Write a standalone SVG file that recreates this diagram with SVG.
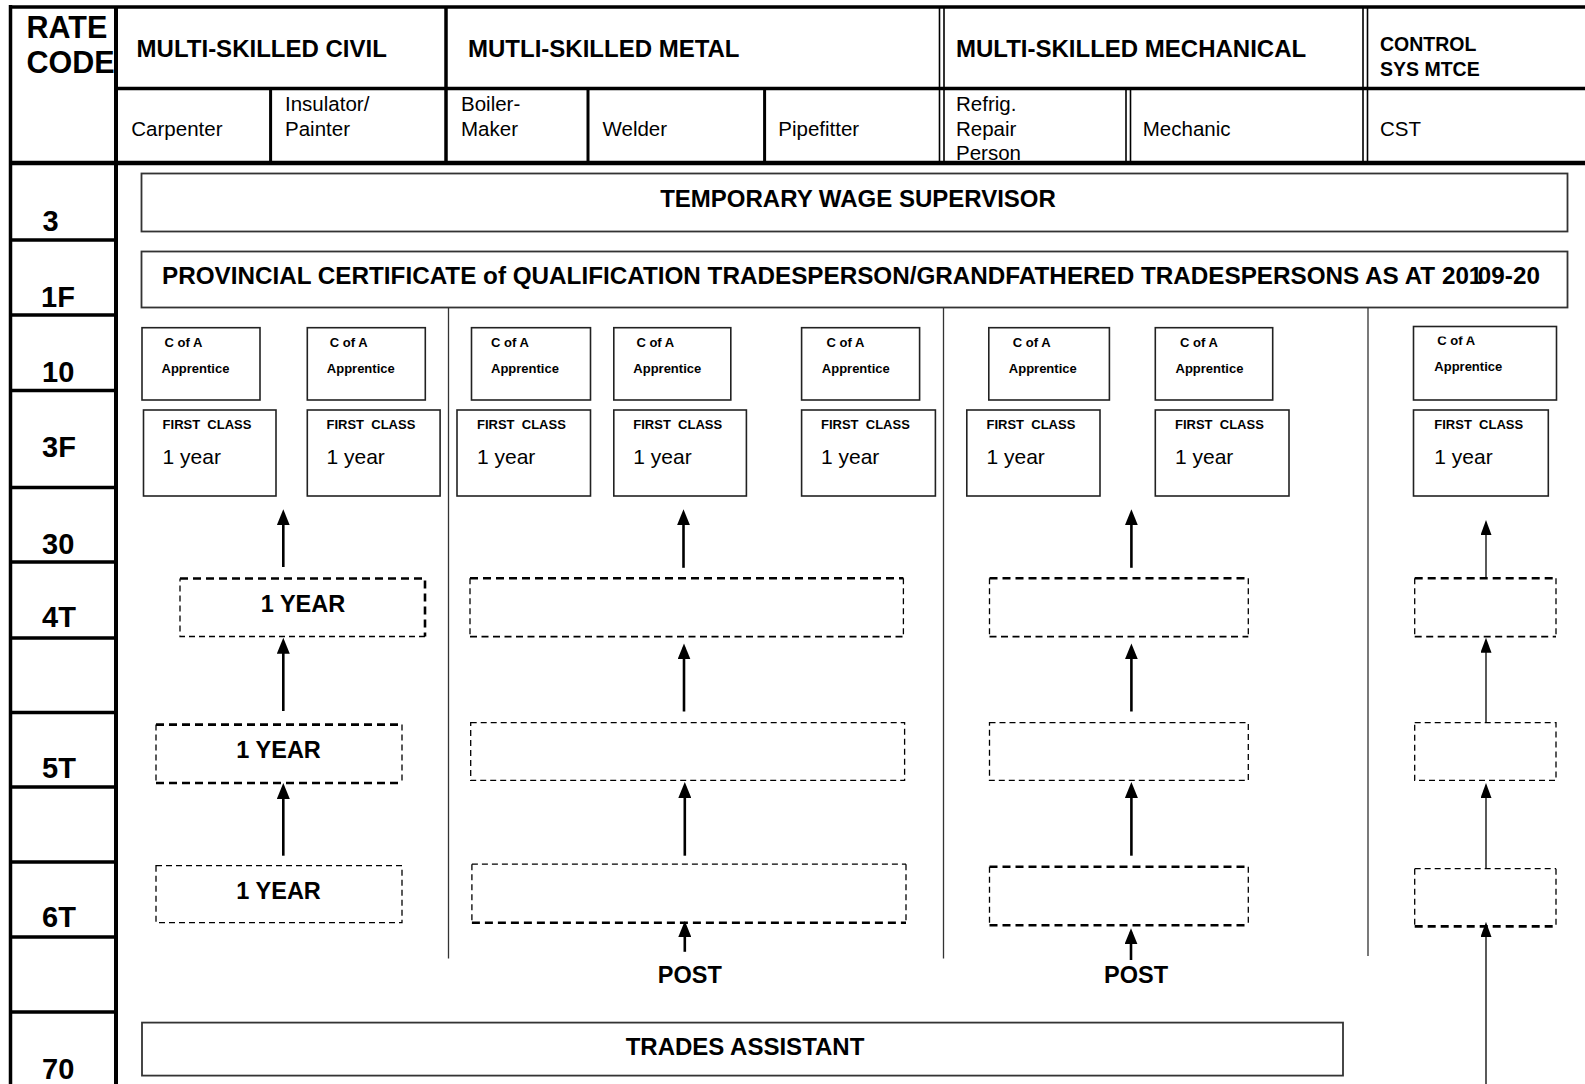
<svg xmlns="http://www.w3.org/2000/svg" width="1585" height="1084" viewBox="0 0 1585 1084">
  <defs>
    <style>
      text { font-family: "Liberation Sans", Arial, sans-serif; fill: #000; }
      .ln { stroke: #000; fill: none; }
      .w35 { stroke-width: 3.5; }
      .w3 { stroke-width: 3; }
      .w16 { stroke-width: 1.6; }
      .rate { font-size: 29px; font-weight: bold; }
      .rc { font-size: 30.5px; font-weight: bold; }
      .hd { font-size: 24px; font-weight: bold; }
      .hd2 { font-size: 19.5px; font-weight: bold; }
      .sub { font-size: 20.5px; }
      .big { fill: #fff; stroke: #333; stroke-width: 1.8; }
      .box { fill: #fff; stroke: #222; stroke-width: 1.6; }
      .t24 { font-size: 24px; font-weight: bold; }
      .t23 { font-size: 23.5px; font-weight: bold; }
      .sm { font-size: 13px; font-weight: bold; }
      .yr { font-size: 21px; }
      .dthin { fill: none; stroke: #000; stroke-width: 1.3; stroke-dasharray: 6 4; }
      .dmid { fill: none; stroke: #000; stroke-width: 1.7; stroke-dasharray: 7 4.5; }
      .dthick { fill: none; stroke: #000; stroke-width: 2.6; stroke-dasharray: 8 5; }
      .sep { stroke: #333; stroke-width: 1.3; }
      .arr { stroke: #000; stroke-width: 2.6; fill: none; marker-end: url(#ah); }
      .arr-t { stroke: #000; stroke-width: 1.3; fill: none; marker-end: url(#ah2); }
    </style>
    <marker id="ah" markerUnits="userSpaceOnUse" viewBox="0 0 16 13" refX="12" refY="6.5" markerWidth="16" markerHeight="13" orient="auto">
      <path d="M0,0 L16,6.5 L0,13 Z" fill="#000"/>
    </marker>
    <marker id="ah2" markerUnits="userSpaceOnUse" viewBox="0 0 15 11" refX="12" refY="5.5" markerWidth="15" markerHeight="11" orient="auto">
      <path d="M0,0 L15,5.5 L0,11 Z" fill="#000"/>
    </marker>
    <clipPath id="clip-cofa8">
      <rect x="1413" y="336.5" width="145" height="60"/>
    </clipPath>
  </defs>

  <rect x="0" y="0" width="1585" height="1084" fill="#fff"/>

  <!-- Table grid: header rows and rate code column -->
  <g id="rate-table">
    <path class="ln w35" d="M10,7 H1585"/>
    <path class="ln w35" d="M10.5,5 V1084"/>
    <path class="ln" stroke-width="4" d="M116,7 V1084"/>
    <path class="ln w35" d="M116,88.5 H1585"/>
    <path class="ln" stroke-width="4.5" d="M10,163 H1585"/>
    <path class="ln w35" d="M446,7 V163"/>
    <path class="ln w16" d="M939.5,7 V163 M944,7 V163"/>
    <path class="ln w16" d="M1363,7 V163 M1367.5,7 V163"/>
    <path class="ln w3" d="M270.6,88.5 V163 M588,88.5 V163 M764.6,88.5 V163"/>
    <path class="ln w16" d="M1126,88.5 V163 M1130.5,88.5 V163"/>
    <path class="ln w35" d="M10,240 H116 M10,315 H116 M10,390.5 H116 M10,487.5 H116 M10,562 H116 M10,638 H116 M10,712.5 H116 M10,787 H116 M10,862 H116 M10,937 H116 M10,1012 H116"/>

    <text class="rc" x="26.5" y="38">RATE</text>
    <text class="rc" x="26.5" y="73">CODE</text>

    <text class="hd" x="136.6" y="57">MULTI-SKILLED CIVIL</text>
    <text class="hd" x="468" y="57">MUTLI-SKILLED METAL</text>
    <text class="hd" x="956" y="57">MULTI-SKILLED MECHANICAL</text>
    <text class="hd2" x="1380" y="50.5">CONTROL</text>
    <text class="hd2" x="1380" y="76">SYS MTCE</text>

    <text class="sub" x="131.3" y="135.5">Carpenter</text>
    <text class="sub" x="285" y="111">Insulator/</text>
    <text class="sub" x="285" y="135.5">Painter</text>
    <text class="sub" x="461" y="111">Boiler-</text>
    <text class="sub" x="461" y="135.5">Maker</text>
    <text class="sub" x="602.5" y="135.5">Welder</text>
    <text class="sub" x="778.3" y="135.5">Pipefitter</text>
    <text class="sub" x="956" y="111">Refrig.</text>
    <text class="sub" x="956" y="135.5">Repair</text>
    <text class="sub" x="956" y="160">Person</text>
    <text class="sub" x="1142.8" y="135.5">Mechanic</text>
    <text class="sub" x="1380" y="135.5">CST</text>

    <text class="rate" x="42.5" y="231">3</text>
    <text class="rate" x="41" y="306.7">1F</text>
    <text class="rate" x="42" y="381.7">10</text>
    <text class="rate" x="42" y="456.7">3F</text>
    <text class="rate" x="42" y="554">30</text>
    <text class="rate" x="42" y="626.6">4T</text>
    <text class="rate" x="42" y="777.5">5T</text>
    <text class="rate" x="42" y="927.2">6T</text>
    <text class="rate" x="42" y="1079">70</text>
  </g>

  <!-- Stream separators -->
  <g id="stream-separators">
    <path class="sep" d="M448.5,307.5 V958.5 M943.5,307.5 V958.5 M1368,304 V956"/>
  </g>

  <g id="temp-wage-supervisor">
    <rect class="big" x="141.5" y="173.5" width="1426" height="58"/>
    <text class="t24" x="858" y="206.5" text-anchor="middle">TEMPORARY WAGE SUPERVISOR</text>
  </g>

  <g id="provincial-certificate">
    <rect class="big" x="141.5" y="251.5" width="1426" height="56"/>
    <text x="162" y="284" font-size="24.25" font-weight="bold">PROVINCIAL CERTIFICATE of QUALIFICATION TRADESPERSON/GRANDFATHERED TRADESPERSONS AS AT 201<tspan dx="-4.5">09-20</tspan></text>
  </g>

  <!-- Certificate of Apprenticeship boxes -->
  <g id="cofa-carpenter">
    <rect class="box" x="142" y="327.7" width="118" height="72.3"/>
    <text class="sm" x="164.5" y="347">C of A</text>
    <text class="sm" x="161.5" y="373">Apprentice</text>
  </g>
  <g id="cofa-insulator">
    <rect class="box" x="307.3" y="327.7" width="118" height="72.3"/>
    <text class="sm" x="329.8" y="347">C of A</text>
    <text class="sm" x="326.8" y="373">Apprentice</text>
  </g>
  <g id="cofa-boilermaker">
    <rect class="box" x="471.5" y="327.7" width="119" height="72.3"/>
    <text class="sm" x="491" y="347">C of A</text>
    <text class="sm" x="491" y="373">Apprentice</text>
  </g>
  <g id="cofa-welder">
    <rect class="box" x="613.8" y="327.7" width="117" height="72.3"/>
    <text class="sm" x="636.4" y="347">C of A</text>
    <text class="sm" x="633.3" y="373">Apprentice</text>
  </g>
  <g id="cofa-pipefitter">
    <rect class="box" x="801.6" y="327.7" width="118" height="72.3"/>
    <text class="sm" x="826.5" y="347">C of A</text>
    <text class="sm" x="821.8" y="373">Apprentice</text>
  </g>
  <g id="cofa-refrig">
    <rect class="box" x="988.8" y="327.7" width="120.6" height="72.3"/>
    <text class="sm" x="1012.8" y="347">C of A</text>
    <text class="sm" x="1008.8" y="373">Apprentice</text>
  </g>
  <g id="cofa-mechanic">
    <rect class="box" x="1155.3" y="327.7" width="117.4" height="72.3"/>
    <text class="sm" x="1180" y="347">C of A</text>
    <text class="sm" x="1175.5" y="373">Apprentice</text>
  </g>
  <g id="cofa-cst">
    <rect class="box" x="1413.5" y="326.5" width="143" height="73.5"/>
    <text class="sm" x="1437.3" y="345" clip-path="url(#clip-cofa8)">C of A</text>
    <text class="sm" x="1434.3" y="371">Apprentice</text>
  </g>

  <!-- First class boxes -->
  <g id="fc-carpenter">
    <rect class="box" x="143.5" y="410" width="132.5" height="86"/>
    <text class="sm" x="162.6" y="428.7" xml:space="preserve">FIRST  CLASS</text>
    <text class="yr" x="162.6" y="464">1 year</text>
  </g>
  <g id="fc-insulator">
    <rect class="box" x="307.3" y="410" width="132.8" height="86"/>
    <text class="sm" x="326.5" y="428.7" xml:space="preserve">FIRST  CLASS</text>
    <text class="yr" x="326.5" y="464">1 year</text>
  </g>
  <g id="fc-boilermaker">
    <rect class="box" x="457" y="410" width="133.5" height="86"/>
    <text class="sm" x="477" y="428.7" xml:space="preserve">FIRST  CLASS</text>
    <text class="yr" x="477" y="464">1 year</text>
  </g>
  <g id="fc-welder">
    <rect class="box" x="613.8" y="410" width="132.6" height="86"/>
    <text class="sm" x="633.3" y="428.7" xml:space="preserve">FIRST  CLASS</text>
    <text class="yr" x="633.3" y="464">1 year</text>
  </g>
  <g id="fc-pipefitter">
    <rect class="box" x="801.6" y="410" width="133.8" height="86"/>
    <text class="sm" x="821" y="428.7" xml:space="preserve">FIRST  CLASS</text>
    <text class="yr" x="821" y="464">1 year</text>
  </g>
  <g id="fc-refrig">
    <rect class="box" x="966.8" y="410" width="133.2" height="86"/>
    <text class="sm" x="986.5" y="428.7" xml:space="preserve">FIRST  CLASS</text>
    <text class="yr" x="986.5" y="464">1 year</text>
  </g>
  <g id="fc-mechanic">
    <rect class="box" x="1155.3" y="410" width="133.7" height="86"/>
    <text class="sm" x="1175" y="428.7" xml:space="preserve">FIRST  CLASS</text>
    <text class="yr" x="1175" y="464">1 year</text>
  </g>
  <g id="fc-cst">
    <rect class="box" x="1413.5" y="410" width="134.8" height="86"/>
    <text class="sm" x="1434.3" y="429.3" xml:space="preserve">FIRST  CLASS</text>
    <text class="yr" x="1434.3" y="464">1 year</text>
  </g>

  <!-- Dashed progression steps: civil -->
  <g id="civil-4t">
    <path class="dthick" d="M180,578.5 H425 V636.5"/>
    <path class="dthin" d="M425,636.5 H180 V578.5"/>
    <text class="t23" x="303" y="612" text-anchor="middle">1 YEAR</text>
  </g>
  <g id="civil-5t">
    <path class="dthick" d="M156,724.6 H402 M156,783 H402"/>
    <path class="dthin" d="M156,724.6 V783 M402,724.6 V783"/>
    <text class="t23" x="278.6" y="758" text-anchor="middle">1 YEAR</text>
  </g>
  <g id="civil-6t">
    <rect class="dthin" x="156" y="865.7" width="246" height="57"/>
    <text class="t23" x="278.6" y="898.5" text-anchor="middle">1 YEAR</text>
  </g>

  <!-- Dashed progression steps: metal -->
  <g id="metal-4t">
    <path class="dthick" d="M470,578.2 H903.4"/>
    <path class="dmid" d="M470,636.7 H903.4"/>
    <path class="dthin" d="M470,578.2 V636.7 M903.4,578.2 V636.7"/>
  </g>
  <g id="metal-5t">
    <rect class="dthin" x="470.7" y="722.7" width="433.9" height="57.7"/>
  </g>
  <g id="metal-6t">
    <path class="dthin" d="M471.9,864.2 H906 M471.9,864.2 V922.7 M906,864.2 V922.7"/>
    <path class="dthick" d="M471.9,922.7 H906"/>
  </g>

  <!-- Dashed progression steps: mechanical -->
  <g id="mech-4t">
    <path class="dthick" d="M989.5,578.2 H1248.3"/>
    <path class="dmid" d="M989.5,636.7 H1248.3"/>
    <path class="dthin" d="M989.5,578.2 V636.7 M1248.3,578.2 V636.7"/>
  </g>
  <g id="mech-5t">
    <rect class="dthin" x="989.5" y="722.7" width="258.8" height="57.7"/>
  </g>
  <g id="mech-6t">
    <path class="dthick" d="M989.5,866.8 H1248.3 M989.5,925.3 H1248.3"/>
    <path class="dthin" d="M989.5,866.8 V925.3 M1248.3,866.8 V925.3"/>
  </g>

  <!-- Dashed progression steps: control systems -->
  <g id="cst-4t">
    <path class="dthick" d="M1414.7,578.2 H1556"/>
    <path class="dmid" d="M1414.7,636.7 H1556"/>
    <path class="dthin" d="M1414.7,578.2 V636.7 M1556,578.2 V636.7"/>
  </g>
  <g id="cst-5t">
    <rect class="dthin" x="1414.7" y="722.7" width="141.3" height="57.7"/>
  </g>
  <g id="cst-6t">
    <path class="dthin" d="M1414.7,868.7 H1556 M1414.7,868.7 V926.4 M1556,868.7 V926.4"/>
    <path class="dthick" d="M1414.7,926.4 H1556"/>
  </g>

  <g id="post-metal">
    <text class="t23" x="689.8" y="983.4" text-anchor="middle">POST</text>
  </g>
  <g id="post-mech">
    <text class="t23" x="1136" y="983.4" text-anchor="middle">POST</text>
  </g>

  <g id="trades-assistant">
    <rect x="142" y="1022.6" width="1201" height="53" fill="#fff" stroke="#333" stroke-width="1.8"/>
    <text class="t24" x="745" y="1055" text-anchor="middle">TRADES ASSISTANT</text>
  </g>

  <!-- Progression arrows -->
  <g id="connectors">
    <path class="arr" d="M283.3,567 V513.3"/>
    <path class="arr" d="M283.3,711 V641.8"/>
    <path class="arr" d="M283.3,855.7 V787"/>

    <path class="arr" d="M683.5,567.8 V513.3"/>
    <path class="arr" d="M684,711.5 V647.4"/>
    <path class="arr" d="M684.8,855.7 V786"/>
    <path class="arr" d="M684.8,951.8 V924.9"/>

    <path class="arr" d="M1131.4,567.8 V513.3"/>
    <path class="arr" d="M1131.4,711.5 V647.4"/>
    <path class="arr" d="M1131.4,855.7 V786"/>
    <path class="arr" d="M1131,960 V932.3"/>

    <path class="arr-t" d="M1486,578 V523"/>
    <path class="arr-t" d="M1486,722.7 V640.7"/>
    <path class="arr-t" d="M1486,868.7 V786"/>
    <path class="arr-t" d="M1486,1084 V924.9"/>
  </g>
</svg>
